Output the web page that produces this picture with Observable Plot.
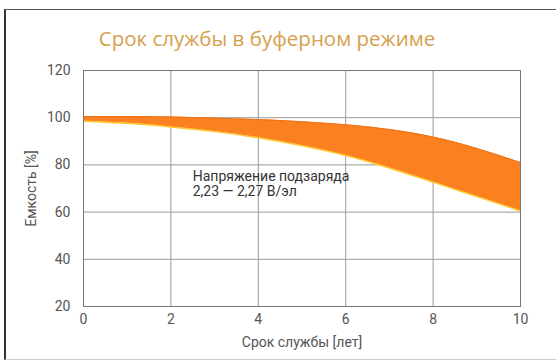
<!DOCTYPE html>
<html><head><meta charset="utf-8">
<script src="https://cdn.jsdelivr.net/npm/d3@7"></script>
<script src="https://cdn.jsdelivr.net/npm/@observablehq/plot@0.6"></script>
<style>
body{margin:0;background:#fff;}
#wrap{position:relative;width:556px;height:362px;overflow:hidden;background:#fff;}
#frame{position:absolute;left:4px;top:9px;width:600px;height:349px;border-left:2px solid #333;border-top:1.5px solid #555;border-bottom:1px solid #ccc;pointer-events:none;}
#title{height:33px;padding-top:27px;box-sizing:content-box;width:534px;text-align:center;font-family:"Open Sans",sans-serif;font-size:20.5px;line-height:22px;color:#d6a04e;margin:0;}
#chart svg{display:block;}
</style></head>
<body>
<div id="wrap">
<div id="title">Срок службы в буферном режиме</div>
<div id="chart"></div>
<div id="frame"></div>
</div>
<script>
const years = [0, 1, 2, 3, 4, 5, 6, 7, 8, 9, 10];
const upper = [100.5, 100.5, 100.3, 99.8, 99.2, 98.3, 97, 95, 91.8, 87, 81];
const lower = [98.5, 97.6, 96.1, 94.1, 91.5, 88.1, 84, 78.7, 72.7, 66.6, 60.5];
const xTicks = [0, 2, 4, 6, 8, 10];
const yTicks = [20, 40, 60, 80, 100, 120];
const xLabel = "Срок службы [лет]";
const yLabel = "Емкость [%]";
const noteText = ["Напряжение подзаряда\n2,23 — 2,27 В/эл"];
const noteX = [2.5];
const noteY = [72];

const data = years.map((x, i) => ({x, hi: upper[i], lo: lower[i]}));
const notes = noteText.map((t, i) => ({t, x: noteX[i], y: noteY[i]}));

const chart = Plot.plot({
  width: 556, height: 302,
  marginLeft: 83, marginRight: 36, marginTop: 10, marginBottom: 56,
  style: {fontFamily: "Roboto, sans-serif", fontSize: "14px", color: "#555", background: "transparent"},
  x: {domain: [0, 10]},
  y: {domain: [20, 120]},
  marks: [
    Plot.gridX(xTicks, {stroke: "#999", strokeOpacity: 1}),
    Plot.gridY(yTicks, {stroke: "#999", strokeOpacity: 1}),
    Plot.areaY(data, {x: "x", y1: "lo", y2: "hi", fill: "#fb8020", curve: "natural"}),
    Plot.line(data, {x: "x", y: "lo", stroke: "#ffc830", strokeWidth: 1.5, curve: "natural"}),
    Plot.line(data, {x: "x", y: "hi", stroke: "#ee7216", strokeWidth: 1, curve: "natural"}),
    Plot.frame({stroke: "#777"}),
    Plot.axisX(xTicks, {tickSize: 0, tickPadding: 8, label: xLabel, labelAnchor: "center", labelArrow: "none", labelOffset: 40, fill: "#555", fontSize: 14}),
    Plot.axisY(yTicks, {tickSize: 0, tickPadding: 13, label: yLabel, labelAnchor: "center", labelArrow: "none", labelOffset: 57, fill: "#555", fontSize: 14}),
    Plot.text(notes, {x: "x", y: "y", text: "t", textAnchor: "start", lineAnchor: "middle", fontSize: 14, lineHeight: 1.1, fill: "#333"})
  ]
});
document.getElementById("chart").appendChild(chart);
</script>
</body></html>
